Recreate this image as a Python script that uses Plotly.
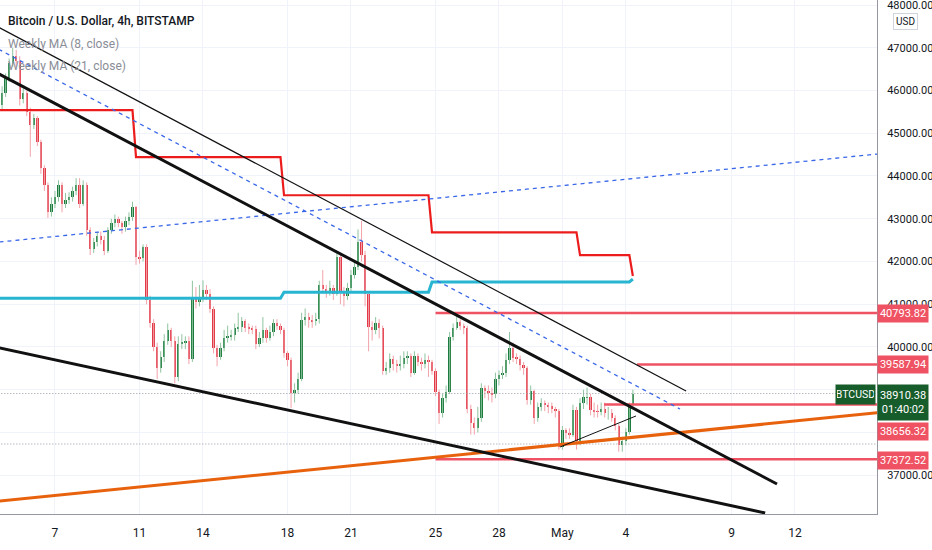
import pandas as pd
import plotly.graph_objects as go

# BTC/USD 4h candles (BITSTAMP), first bar 2022-04-04 08:00, open of first bar
first_open = 46150
closes = [
    45650, 45950, 46300, 46650, 46800, 46700, 45800, 45950, 45500, 45190,
    45350, 44800, 44180, 43780, 43150, 43350, 43500, 43780, 43350, 43430,
    43500, 43650, 43800, 43350, 43780, 42730, 42300, 42450, 42600, 42500,
    42250, 42730, 42900, 43000, 42900, 42800, 42950, 43050, 43270, 42100,
    42080, 42330, 41100, 40550, 40000, 39520, 39760, 40150, 40390, 40150,
    39290, 40080, 40110, 40130, 39730, 41160, 41050, 41150, 41330, 41250,
    40900, 39970, 39760, 39970, 40200, 40250, 40280, 40440, 40460, 40600,
    40450, 40430, 40420, 40080, 40200, 40400, 40200, 40350, 40550, 40500,
    40400, 39850, 39700, 38920, 38990, 39260, 40620, 40700, 40620, 40600,
    40650, 41440, 41350, 41300, 41380, 41250, 42100, 41280, 41200, 41370,
    41680, 41860, 42450, 42150, 41250, 40460, 40400, 40550, 40450, 39450,
    39500, 39730, 39600, 39550, 39600, 39750, 39800, 39400, 39800, 39650,
    39600, 39700, 39650, 39450, 38940, 38450, 38800, 38940, 40230, 40440,
    40580, 40500, 40450, 38560, 38230, 38100, 38330, 39030, 38980, 38920,
    38900, 39260, 39340, 39400, 39690, 39970, 39750, 39730, 39570, 39500,
    38750, 38980, 38330, 38600, 38680, 38640, 38600, 38560, 38500, 37650,
    38050, 37980, 37950, 38520, 37790, 38680, 38820, 38830, 38520, 38500,
    38480, 38550, 38450, 38450, 38350, 38150, 37700, 37800, 38000, 38640,
    38910.38,
]
highs = [
    46350, 46100, 46400, 46750, 47000, 46950, 46800, 46050, 46000, 45600,
    45450, 45400, 44850, 44250, 43850, 43500, 43650, 43900, 43850, 43600,
    43620, 43750, 43950, 43950, 43900, 43850, 42800, 42550, 42700, 42700,
    42600, 42800, 43000, 43100, 43050, 42950, 43050, 43150, 43400, 43300,
    42250, 42400, 42400, 41200, 40650, 40100, 39900, 40300, 40550, 40450,
    40250, 40250, 40300, 40250, 40250, 41550, 41400, 41450, 41560, 41450,
    41350, 40950, 40050, 40100, 40400, 40500, 40400, 40550, 40800, 40700,
    40650, 40550, 40500, 40500, 40350, 40700, 40450, 40500, 40650, 40650,
    40550, 40450, 39900, 39750, 39150, 39400, 40800, 40900, 40800, 40750,
    40800, 41550, 41800, 41450, 41550, 41450, 42200, 42200, 41400, 41500,
    41800, 42000, 42750, 42950, 42250, 41300, 40600, 40700, 40650, 40500,
    39650, 39850, 39800, 39700, 39800, 39900, 39900, 39850, 39900, 39850,
    39750, 39850, 39800, 39700, 39500, 39000, 38900, 39100, 40350, 40550,
    40750, 40650, 40550, 40500, 38650, 38350, 38600, 39150, 39100, 39100,
    39050, 39400, 39450, 39550, 39850, 40350, 40100, 39850, 39800, 39650,
    39550, 39100, 39000, 38700, 38800, 38750, 38700, 38700, 38600, 38550,
    38150, 38100, 38100, 38650, 38600, 38800, 39000, 39050, 38900, 38700,
    38650, 38700, 38700, 38600, 38550, 38400, 38200, 37900, 38100, 38700,
    39000,
]
lows = [
    45400, 45550, 45850, 46200, 46550, 46550, 45650, 45700, 45400, 44450,
    45100, 44700, 44050, 43650, 43020, 43050, 43250, 43400, 43150, 43250,
    43350, 43400, 43550, 43250, 43300, 42600, 42150, 42200, 42350, 42400,
    42150, 42200, 42650, 42800, 42800, 42650, 42700, 42850, 42950, 41920,
    41950, 42000, 41000, 40450, 39900, 39250, 39400, 39650, 40050, 40000,
    39150, 39200, 39950, 39950, 39600, 39650, 40900, 40950, 41050, 41100,
    40800, 39850, 39550, 39700, 39900, 40100, 40150, 40150, 40350, 40350,
    40350, 40300, 40300, 39950, 40000, 40100, 40100, 40150, 40250, 40400,
    40300, 39750, 39550, 38570, 38700, 38900, 39200, 40500, 40450, 40450,
    40500, 40550, 41250, 41150, 41200, 41100, 41200, 41000, 40950, 41100,
    41300, 41600, 41800, 42000, 40950, 39900, 40150, 40300, 40200, 39350,
    39350, 39400, 39450, 39400, 39450, 39500, 39600, 39300, 39350, 39550,
    39450, 39500, 39300, 39350, 38850, 38200, 38350, 38700, 38900, 40150,
    40400, 40400, 40300, 38450, 37950, 37950, 38000, 38250, 38800, 38750,
    38700, 38800, 39100, 39250, 39300, 39600, 39650, 39600, 39450, 39350,
    38650, 38650, 38200, 38250, 38500, 38500, 38450, 38450, 38350, 37600,
    37600, 37850, 37850, 37900, 37600, 37700, 38550, 38650, 38400, 38350,
    38350, 38400, 38350, 38300, 38250, 38050, 37550, 37550, 37700, 37950,
    38600,
]

# weekly moving averages (value per week, changes at the weekly bar boundary)
ma_week_starts = ["2022-04-10 20:00", "2022-04-17 20:00", "2022-04-24 20:00", "2022-05-01 20:00"]
ma8_levels = [45540, 44440, 43550, 42680, 42150]
ma8_now = 41660
ma21_levels = [41140, 41140, 41280, 41520, 41520]
ma21_now = 41590

# drawn trend lines: [start, end] time and price
thick_upper_t = ["2022-04-04 00:00", "2022-05-11 03:36"]
thick_upper_p = [46478, 36795]
thin_upper_t = ["2022-04-04 00:00", "2022-05-06 20:24"]
thin_upper_p = [47566, 38971]
dash_down_t = ["2022-04-04 00:00", "2022-05-06 13:30"]
dash_down_p = [47051, 38550]
dash_up_t = ["2022-04-04 00:00", "2022-05-17 00:00"]
dash_up_p = [42437, 44568]
thick_lower_t = ["2022-04-04 00:00", "2022-05-10 14:10"]
thick_lower_p = [40019, 36117]
orange_t = ["2022-04-04 00:00", "2022-05-17 00:00"]
orange_p = [36378, 38517]
short_t = ["2022-04-30 21:20", "2022-05-04 11:32"]
short_p = [37661, 38386]

# horizontal price levels
level_prices = [40793.82, 39587.94, 38656.32, 37372.52]
level_starts = ["2022-04-25 00:00", "2022-05-04 12:45", "2022-05-02 23:20", "2022-04-25 00:00"]
dotted_levels = [38910.38, 37730]
countdown = "01:40:02"

# price ticks left visible (38000 and 39000 sit under the label boxes)
price_ticks = [37000, 40000, 41000, 42000, 43000, 44000, 45000, 46000, 47000, 48000]
tick_dates = ["2022-04-07", "2022-04-11", "2022-04-14", "2022-04-18", "2022-04-21", "2022-04-25",
              "2022-04-28", "2022-05-01", "2022-05-04", "2022-05-09", "2022-05-12"]
tick_text = ["7", "11", "14", "18", "21", "25", "28", "May", "4", "9", "12"]

FONT = "Roboto, Liberation Sans, sans-serif"
UP = "#1e7b3f"
DOWN = "#e23a47"
LEVEL_RED = "#ef5262"
RIGHT_END = "2022-05-17 00:00"

times = pd.date_range("2022-04-04 08:00", periods=len(closes), freq="4h")
opens = [first_open] + closes[:-1]

fig = go.Figure()

# wicks
for up in (True, False):
    wx, wy = [], []
    for t, o, h, l, c in zip(times, opens, highs, lows, closes):
        if (c >= o) == up:
            wx += [t, t, None]
            wy += [l, h, None]
    fig.add_trace(go.Scatter(x=wx, y=wy, mode="lines", hoverinfo="skip",
                             line=dict(color="#8fc49f" if up else "#f2a3aa", width=1)))

# bodies
fig.add_trace(go.Bar(
    x=times,
    y=[c - o for o, c in zip(opens, closes)],
    base=opens,
    width=4 * 3600 * 1000 * 0.65,
    marker=dict(color=[UP if c >= o else DOWN for o, c in zip(opens, closes)], line=dict(width=0)),
))

# dotted price lines
for p in dotted_levels:
    fig.add_trace(go.Scatter(x=[times[0] - pd.Timedelta(days=2), RIGHT_END], y=[p, p], mode="lines",
                             line=dict(color="#9598a1", width=1, dash="1px,2px")))

# horizontal levels
for p, s in zip(level_prices, level_starts):
    fig.add_trace(go.Scatter(x=[s, RIGHT_END], y=[p, p], mode="lines",
                             line=dict(color=LEVEL_RED, width=2.5)))

# weekly MAs
breaks = pd.to_datetime(ma_week_starts)
week_idx = [int((t >= breaks).sum()) for t in times]
ma8 = [ma8_levels[k] for k in week_idx]
ma8[-1] = ma8_now
ma21 = [ma21_levels[k] for k in week_idx]
ma21[-1] = ma21_now
fig.add_trace(go.Scatter(x=times, y=ma21, mode="lines", line=dict(color="#27b5d2", width=3)))
fig.add_trace(go.Scatter(x=times, y=ma8, mode="lines", line=dict(color="#ec1c1c", width=2.2)))

# trend lines
fig.add_trace(go.Scatter(x=dash_up_t, y=dash_up_p, mode="lines",
                         line=dict(color="#3a67e8", width=1.3, dash="4px,4px")))
fig.add_trace(go.Scatter(x=dash_down_t, y=dash_down_p, mode="lines",
                         line=dict(color="#3a67e8", width=1.3, dash="4px,4px")))
fig.add_trace(go.Scatter(x=orange_t, y=orange_p, mode="lines", line=dict(color="#e8620e", width=3)))
fig.add_trace(go.Scatter(x=thin_upper_t, y=thin_upper_p, mode="lines", line=dict(color="#111111", width=1.2)))
fig.add_trace(go.Scatter(x=short_t, y=short_p, mode="lines", line=dict(color="#111111", width=1)))
fig.add_trace(go.Scatter(x=thick_upper_t, y=thick_upper_p, mode="lines", line=dict(color="#111111", width=3)))
fig.add_trace(go.Scatter(x=thick_lower_t, y=thick_lower_p, mode="lines", line=dict(color="#111111", width=3)))

annotations = []
# header texts
header = [("Bitcoin / U.S. Dollar, 4h, BITSTAMP", "#131722", 21, 500),
          ("Weekly MA (8, close)", "#8a8d96", 44, 400),
          ("Weekly MA (21, close)", "#8a8d96", 66, 400)]
for txt, col, dy, wt in header:
    annotations.append(dict(xref="paper", yref="paper", x=0, y=1, xanchor="left", yanchor="middle",
                            xshift=6, yshift=-dy, showarrow=False, text=txt,
                            font=dict(family=FONT, size=12, color=col, weight=wt)))

# level labels on the price axis
label_shift = [0, 0, -27, -1]
for p, sh in zip(level_prices, label_shift):
    annotations.append(dict(xref="paper", yref="y", x=1, y=p, xanchor="left", yanchor="middle",
                            yshift=sh, showarrow=False, text=f"{p:.2f}", bgcolor=LEVEL_RED,
                            width=48, height=15, borderpad=1,
                            font=dict(family=FONT, size=11, color="white")))

# last price
last = closes[-1]
annotations.append(dict(xref="paper", yref="y", x=1, y=last, xanchor="left", yanchor="top",
                        yshift=10, showarrow=False, text=f"{last:.2f}<br>{countdown}",
                        bgcolor="#175c2b", width=48, height=33, borderpad=1,
                        font=dict(family=FONT, size=11, color="white")))
annotations.append(dict(xref="paper", yref="y", x=1, y=last, xanchor="right", yanchor="middle",
                        xshift=-1, yshift=-1, showarrow=False, text="BTCUSD",
                        bgcolor="#175c2b", width=37, height=17, borderpad=1,
                        font=dict(family=FONT, size=10.5, color="white")))
annotations.append(dict(xref="paper", yref="paper", x=1, y=1, xanchor="center", yanchor="middle",
                        xshift=28, yshift=-21, showarrow=False, text="USD",
                        bgcolor="white", bordercolor="#d1d4dc", borderwidth=1, borderpad=2,
                        font=dict(family=FONT, size=10, color="#131722")))

fig.update_layout(
    width=932, height=550,
    margin=dict(l=0, r=55, t=0, b=36),
    plot_bgcolor="white", paper_bgcolor="white",
    showlegend=False, barmode="overlay", bargap=0,
    font=dict(family=FONT, size=11, color="#131722"),
    annotations=annotations,
    xaxis=dict(
        type="date", range=["2022-04-04 09:36", "2022-05-15 21:07"],
        tickmode="array", tickvals=tick_dates, ticktext=tick_text,
        showgrid=True, gridcolor="#f0f3fa", gridwidth=1,
        showline=True, linecolor="#9598a1", linewidth=1,
        ticks="", ticklabelstandoff=8, zeroline=False,
        tickfont=dict(family=FONT, size=12, color="#131722"),
    ),
    yaxis=dict(
        side="right", range=[36093, 48117],
        tickmode="array", tickvals=price_ticks, tickformat=".2f",
        showgrid=True, gridcolor="#f0f3fa", gridwidth=1,
        minor=dict(dtick=1000, tick0=0, showgrid=True, gridcolor="#f0f3fa", gridwidth=1),
        showline=True, linecolor="#9598a1", linewidth=1,
        ticks="", ticklabelstandoff=7, zeroline=False, ticklabeloverflow="allow",
        tickfont=dict(family=FONT, size=11, color="#131722"),
    ),
)

fig.write_html("out.html", config={"displayModeBar": False},
               post_script="document.body.style.margin='0';document.body.style.overflow='hidden';")
